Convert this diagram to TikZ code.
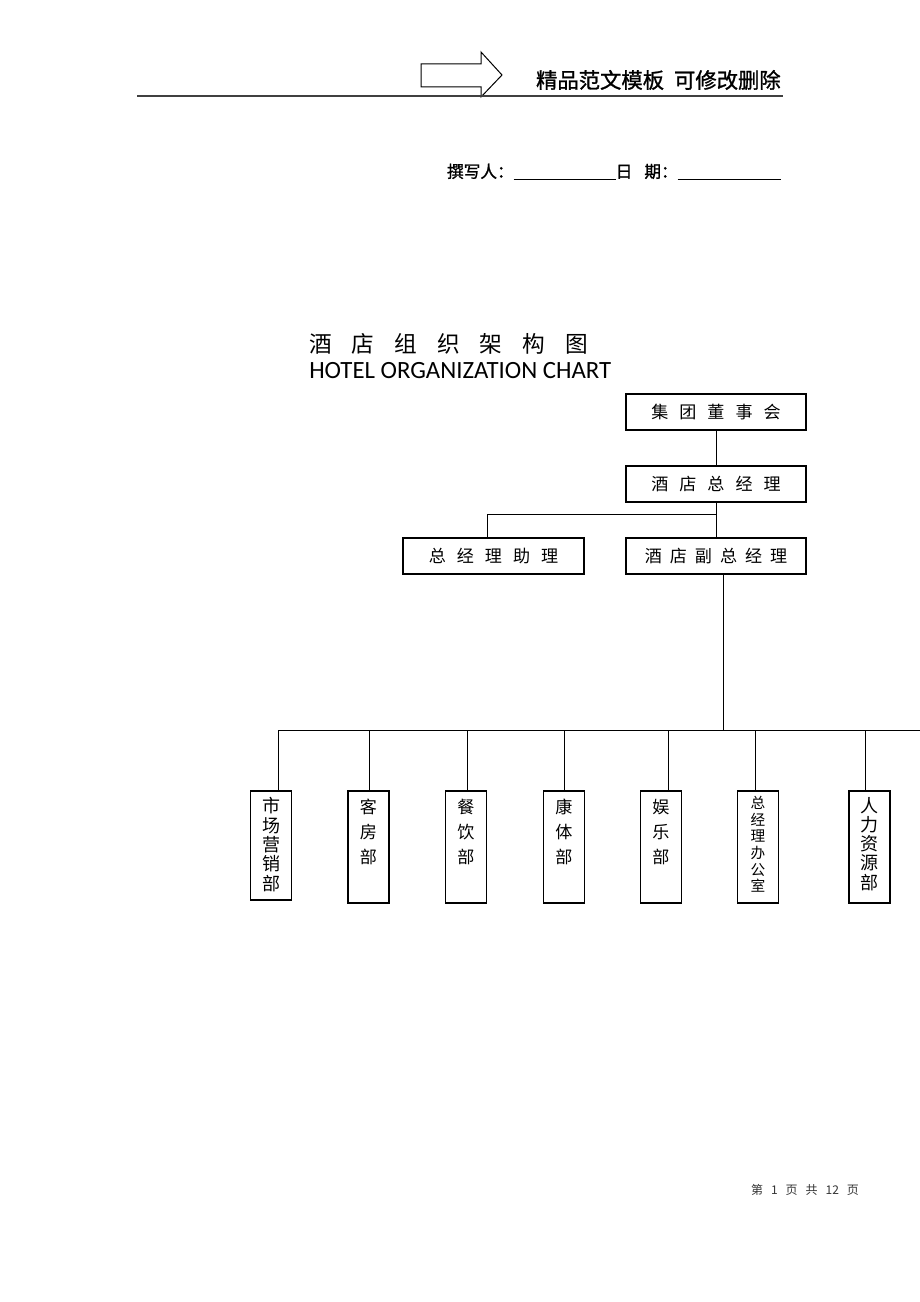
\documentclass[tikz,border=0pt]{standalone}
\usepackage{fontspec}
\setmainfont{Liberation Serif}
\newfontfamily\cjk{Noto Sans CJK SC}
\newfontfamily\cjkheavy{Noto Sans CJK SC}[FakeBold=1.2]
\newfontfamily\latinsans{Carlito}
\usetikzlibrary{calc}

\newlength{\du}
\setlength{\du}{0.75pt}
\newcommand{\cgap}[1]{\hspace{#1\du}}

\tikzset{
  topbox/.style={draw, line width=1.2\du, rectangle, minimum width=180\du,
    minimum height=36\du, inner sep=0pt, font=\cjk\fontsize{12.8}{14}\selectfont},
  deptbox/.style={draw, line width=1.2\du, rectangle, minimum width=41\du,
    minimum height=#1, inner sep=0pt},
  depttext/.style={anchor=north, align=center, inner sep=0pt, font=\cjk#1},
  link/.style={draw, line width=1\du},
}

\begin{document}
\begin{tikzpicture}
\pgftransformxscale{1.000000}
\pgftransformyscale{-1.000000}
\useasboundingbox (0\du,0\du) rectangle (920\du,1302\du);
% header
\draw[line width=1\du] (421\du,64\du)--(481\du,64\du)--(481\du,52\du)--(502\du,75\du)
  --(481\du,97\du)--(481\du,87\du)--(421\du,87\du)--cycle;
\node[anchor=east, inner sep=0pt] (tagline) at (781\du,80\du)
  {\cjkheavy\fontsize{16}{17}\selectfont 精品范文模板\cgap{10}可修改删除};
\draw[line width=1.5\du, black!75] (137\du,96\du) -- (783\du,96\du);
\node[anchor=east, inner sep=0pt] (writer) at (781\du,172\du)
  {\cjkheavy\fontsize{12.5}{13}\selectfont 撰写人：\underline{\cgap{102}}日\cgap{12}期：\underline{\cgap{103}}};
% titles
\node[anchor=west, inner sep=0pt] (title) at (309\du,344\du)
  {\cjk\fontsize{17}{18}\selectfont 酒\cgap{20}店\cgap{20}组\cgap{20}织\cgap{20}架\cgap{20}构\cgap{20}图};
\node[anchor=west, inner sep=0pt] (titleen) at (309\du,371\du)
  {\latinsans\fontsize{18.6}{20}\selectfont HOTEL ORGANIZATION CHART};
% top levels
\node[topbox] (board) at (716\du,412\du) {集\cgap{11}团\cgap{11}董\cgap{11}事\cgap{11}会};
\node[topbox] (gm) at (716\du,484\du) {酒\cgap{11}店\cgap{11}总\cgap{11}经\cgap{11}理};
\node[topbox, minimum width=181\du] (assist) at (493.5\du,556\du) {总\cgap{11}经\cgap{11}理\cgap{11}助\cgap{11}理};
\node[topbox] (vgm) at (716\du,556\du) {酒\cgap{8}店\cgap{8}副\cgap{8}总\cgap{8}经\cgap{8}理};
\coordinate (split) at (716\du,514\du);
\coordinate (bus) at (723\du,730\du);
\coordinate (busend) at (920\du,730\du);
% departments
\node[deptbox=109\du] (market) at (271\du,845.5\du) {};
\node[deptbox=112\du] (rooms) at (368.5\du,847\du) {};
\node[deptbox=112\du] (food) at (466\du,847\du) {};
\node[deptbox=112\du] (sport) at (564\du,847\du) {};
\node[deptbox=112\du] (fun) at (661\du,847\du) {};
\node[deptbox=112\du] (office) at (758\du,847\du) {};
\node[deptbox=112\du] (hr) at (869.5\du,847\du) {};
\node[depttext=\fontsize{13.5}{14.6}\selectfont] (markettxt) at (271\du,797\du) {市\\场\\营\\销\\部};
\node[depttext=\fontsize{12.8}{18.8}\selectfont] (roomstxt) at (368.5\du,799\du) {客\\房\\部};
\node[depttext=\fontsize{12.8}{18.8}\selectfont] (foodtxt) at (466\du,799\du) {餐\\饮\\部};
\node[depttext=\fontsize{12.8}{18.8}\selectfont] (sporttxt) at (564\du,799\du) {康\\体\\部};
\node[depttext=\fontsize{12.8}{18.8}\selectfont] (funtxt) at (661\du,799\du) {娱\\乐\\部};
\node[depttext=\fontsize{11}{12.5}\selectfont] (officetxt) at (758\du,796\du) {总\\经\\理\\办\\公\\室};
\node[depttext=\fontsize{13.5}{14.4}\selectfont] (hrtxt) at (869.5\du,797\du) {人\\力\\资\\源\\部};
% connectors
\draw[link] (board) -- (gm);
\draw[link] (gm) -- (vgm);
\draw[link] (split) -| ([xshift=-6.5\du]assist.north);
\draw[link] ([xshift=7\du]vgm.south) -- (bus);
\draw[link] ([xshift=7\du]market.north |- bus) -- (busend);
\foreach \name/\dx in {market/7,rooms/0.5,food/1,sport/0,fun/7,office/-3,hr/-4}
  \draw[link] ([xshift=\dx\du]\name.north) -- ([xshift=\dx\du]\name.north |- bus);
% footer
\node[inner sep=0pt, text=black!80] (pageno) at (805\du,1190\du)
  {\cjk\fontsize{9}{10}\selectfont 第\cgap{8}1\cgap{8}页\cgap{8}共\cgap{8}12\cgap{8}页};
\end{tikzpicture}
\end{document}
